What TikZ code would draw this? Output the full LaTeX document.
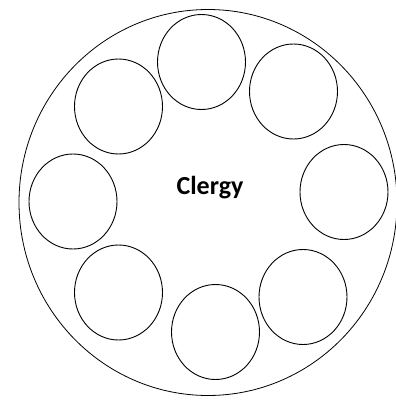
\documentclass[tikz,border=0pt]{standalone}
\usepackage{fontspec}
\setmainfont{Carlito}
\usetikzlibrary{shapes.geometric}
\tikzset{every picture/.append style={thick}}
\tikzset{
    seat/.style={draw, ellipse, line width=0.9pt, minimum width=88pt, minimum height=95pt, inner sep=0pt},
    hall/.style={draw, ellipse, line width=0.8pt, minimum width=378pt, minimum height=386pt, inner sep=0pt}
}

\begin{document}
\begin{tikzpicture}[x=1pt, y=-1pt]
        \useasboundingbox (0,0) rectangle (396,400);
        % ----------------------------------------------------
        % Outer ring
        % ----------------------------------------------------
        \node[hall] (ring) at (208, 202.5) {};
        \node[font=\bfseries\fontsize{26}{30}\selectfont] (clergy) at (210, 188) {Clergy};

        % ----------------------------------------------------
        % Seats round the centre
        % ----------------------------------------------------
        \node[seat] (top)    at (201.5, 62) {};
        \node[seat] (topR)   at (293.5, 91.5) {};
        \node[seat] (right)  at (344, 192) {};
        \node[seat] (botR)   at (303, 297) {};
        \node[seat] (bot)    at (215.5, 332) {};
        \node[seat] (botL)   at (118.5, 292.5) {};
        \node[seat] (left)   at (73, 201.5) {};
        \node[seat] (topL)   at (118.5, 106.5) {};
    \end{tikzpicture}
\end{document}
